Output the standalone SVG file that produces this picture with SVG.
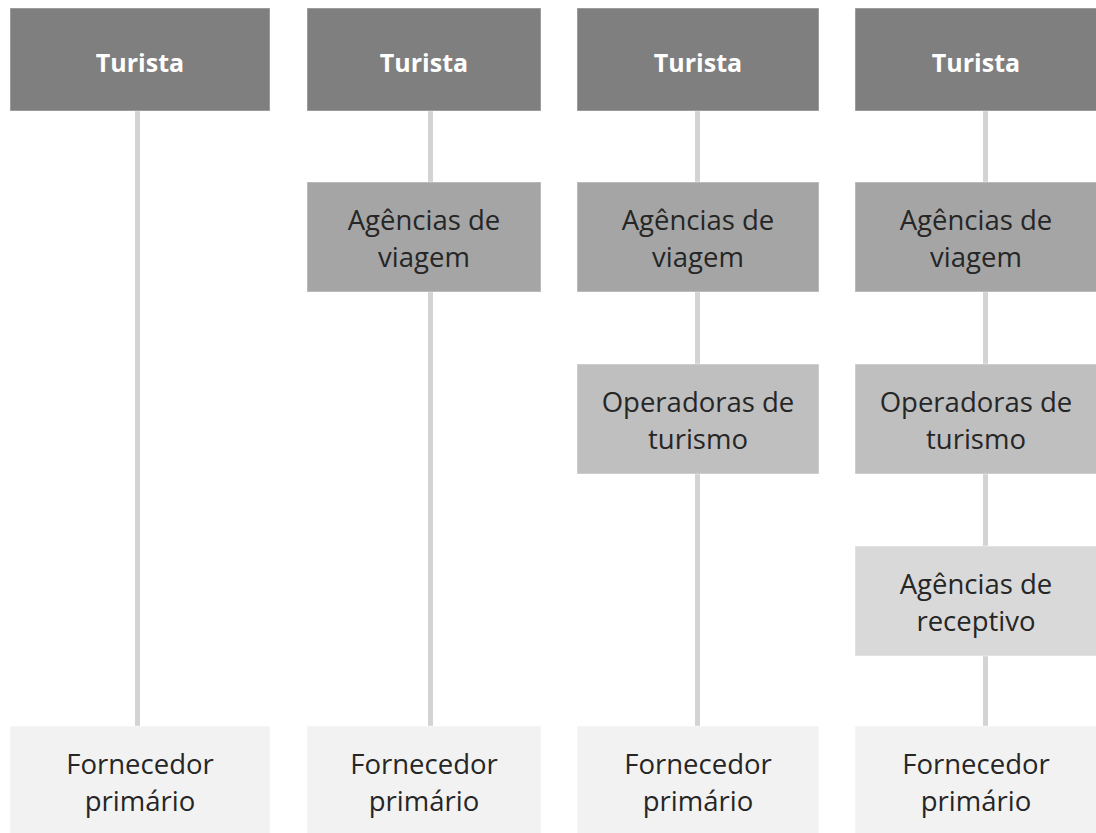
<svg xmlns="http://www.w3.org/2000/svg" width="1096" height="833" viewBox="0 0 1096 833">
  <style>
    .box { stroke: #ffffff; stroke-opacity: 0.45; stroke-width: 1; }
    .l1 { fill: #7f7f7f; }
    .l2 { fill: #a5a5a5; }
    .l3 { fill: #bfbfbf; }
    .l4 { fill: #d9d9d9; }
    .l5 { fill: #f2f2f2; }
    .t { font-family: "Open Sans", "Noto Sans", sans-serif; font-size: 27.5px; fill: #262626; text-anchor: middle; }
    .tb { font-family: "Open Sans", "Noto Sans", sans-serif; font-size: 25px; font-weight: bold; fill: #ffffff; text-anchor: middle; }
    .conn { stroke: #d3d3d3; stroke-width: 5; fill: none; }
  </style>
  <rect width="1096" height="833" fill="#ffffff"/>
  <g id="connectors">
    <line class="conn" x1="137.5" y1="111" x2="137.5" y2="726"/>
    <line class="conn" x1="430.5" y1="111" x2="430.5" y2="726"/>
    <line class="conn" x1="697.5" y1="111" x2="697.5" y2="726"/>
    <line class="conn" x1="985.5" y1="111" x2="985.5" y2="726"/>
  </g>
  <!-- Column 1 -->
  <g id="c1-turista"><rect class="box l1" x="10" y="8" width="260" height="103"/><text class="tb" x="140" y="72">Turista</text></g>
  <g id="c1-fornecedor"><rect class="box l5" x="10" y="726" width="260" height="110"/><text class="t" x="140" y="774">Fornecedor</text><text class="t" x="140" y="811">primário</text></g>
  <!-- Column 2 -->
  <g id="c2-turista"><rect class="box l1" x="307" y="8" width="234" height="103"/><text class="tb" x="424" y="72">Turista</text></g>
  <g id="c2-agencias"><rect class="box l2" x="307" y="182" width="234" height="110"/><text class="t" x="424" y="230">Agências de</text><text class="t" x="424" y="267">viagem</text></g>
  <g id="c2-fornecedor"><rect class="box l5" x="307" y="726" width="234" height="110"/><text class="t" x="424" y="774">Fornecedor</text><text class="t" x="424" y="811">primário</text></g>
  <!-- Column 3 -->
  <g id="c3-turista"><rect class="box l1" x="577" y="8" width="242" height="103"/><text class="tb" x="698" y="72">Turista</text></g>
  <g id="c3-agencias"><rect class="box l2" x="577" y="182" width="242" height="110"/><text class="t" x="698" y="230">Agências de</text><text class="t" x="698" y="267">viagem</text></g>
  <g id="c3-operadoras"><rect class="box l3" x="577" y="364" width="242" height="110"/><text class="t" x="698" y="412">Operadoras de</text><text class="t" x="698" y="449">turismo</text></g>
  <g id="c3-fornecedor"><rect class="box l5" x="577" y="726" width="242" height="110"/><text class="t" x="698" y="774">Fornecedor</text><text class="t" x="698" y="811">primário</text></g>
  <!-- Column 4 -->
  <g id="c4-turista"><rect class="box l1" x="855" y="8" width="244" height="103"/><text class="tb" x="976" y="72">Turista</text></g>
  <g id="c4-agencias"><rect class="box l2" x="855" y="182" width="244" height="110"/><text class="t" x="976" y="230">Agências de</text><text class="t" x="976" y="267">viagem</text></g>
  <g id="c4-operadoras"><rect class="box l3" x="855" y="364" width="244" height="110"/><text class="t" x="976" y="412">Operadoras de</text><text class="t" x="976" y="449">turismo</text></g>
  <g id="c4-receptivo"><rect class="box l4" x="855" y="546" width="244" height="110"/><text class="t" x="976" y="594">Agências de</text><text class="t" x="976" y="631">receptivo</text></g>
  <g id="c4-fornecedor"><rect class="box l5" x="855" y="726" width="244" height="110"/><text class="t" x="976" y="774">Fornecedor</text><text class="t" x="976" y="811">primário</text></g>
</svg>
